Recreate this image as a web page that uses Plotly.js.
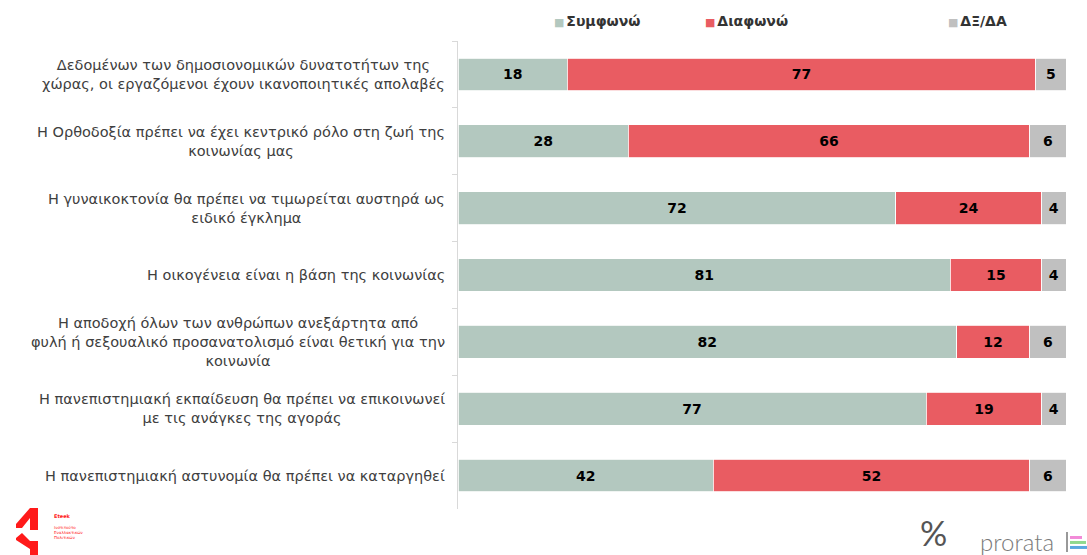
<!DOCTYPE html>
<html>
<head>
<meta charset="utf-8">
<script src="https://cdn.plot.ly/plotly-3.0.1.min.js"></script>
<style>html,body{margin:0;padding:0;background:#fff;}#chart{width:1087px;height:555px;}</style>
</head>
<body>
<div id="chart"></div>
<script>
const categories = [
  "Δεδομένων των δημοσιονομικών δυνατοτήτων της<br>χώρας, οι εργαζόμενοι έχουν ικανοποιητικές απολαβές",
  "Η Ορθοδοξία πρέπει να έχει κεντρικό ρόλο στη ζωή της<br>κοινωνίας μας",
  "Η γυναικοκτονία θα πρέπει να τιμωρείται αυστηρά ως<br>ειδικό έγκλημα",
  "Η οικογένεια είναι η βάση της κοινωνίας",
  "Η αποδοχή όλων των ανθρώπων ανεξάρτητα από<br>φυλή ή σεξουαλικό προσανατολισμό είναι θετική για την<br>κοινωνία",
  "Η πανεπιστημιακή εκπαίδευση θα πρέπει να επικοινωνεί<br>με τις ανάγκες της αγοράς",
  "Η πανεπιστημιακή αστυνομία θα πρέπει να καταργηθεί"
];
const seriesNames = ["Συμφωνώ", "Διαφωνώ", "ΔΞ/ΔΑ"];
const agree = [18, 28, 72, 81, 82, 77, 42];
const disagree = [77, 66, 24, 15, 12, 19, 52];
const dkna = [5, 6, 4, 4, 6, 4, 6];
const colors = ["#b3c8bf", "#e95c62", "#c0c0c0"];

const W = 1087, H = 555;
const M = {l: 458, r: 21, t: 40.5, b: 46};
const pw = W - M.l - M.r, ph = H - M.t - M.b;
const px = v => (v - M.l) / pw;
const py = v => (H - M.b - v) / ph;

const font = "DejaVu Sans, sans-serif";
const ids = categories.map((c, i) => "c" + i);

const values = [agree, disagree, dkna];
const traces = values.map((vals, k) => ({
  type: "bar",
  orientation: "h",
  name: seriesNames[k],
  y: ids,
  x: vals,
  marker: {color: colors[k], line: {color: "#ffffff", width: 0.8}},
  width: 0.49,
  text: vals.map(String),
  textposition: "inside",
  insidetextanchor: "middle",
  constraintext: "none",
  textfont: {family: font, size: 14, color: "#000000", weight: "bold"},
  hoverinfo: "skip",
  showlegend: false
}));

const annotations = categories.map((c, i) => ({
  xref: "paper", yref: "y", x: px(447), y: ids[i],
  xanchor: "right", yanchor: "middle", align: "center",
  text: c, showarrow: false,
  font: {family: font, size: 14.5, color: "#404040"}
}));

// legend
const legX = [552, 703, 946];
seriesNames.forEach((n, k) => {
  annotations.push({
    xref: "paper", yref: "paper", x: px(legX[k]), y: py(20),
    xanchor: "left", yanchor: "middle", showarrow: false,
    text: '<span style="color:' + colors[k] + ';font-size:11px">■</span><span style="font-size:6px">&#160;</span><b>' + n + '</b>',
    font: {family: font, size: 14, color: "#333333"}
  });
});

// logos text
annotations.push(
  {xref: "paper", yref: "paper", x: px(52), y: py(516), xanchor: "left", yanchor: "middle", showarrow: false,
   text: "<b>Eteek</b>", font: {family: font, size: 5, color: "#ff2020"}},
  {xref: "paper", yref: "paper", x: px(52), y: py(533), xanchor: "left", yanchor: "middle", showarrow: false, align: "left",
   text: "Ινστιτούτο<br>Εναλλακτικών<br>Πολιτικών", font: {family: font, size: 4, color: "#ff2020"}},
  {xref: "paper", yref: "paper", x: px(919), y: py(533), xanchor: "left", yanchor: "middle", showarrow: false, borderpad: 0,
   text: "%", font: {family: "Lato, sans-serif", size: 34, color: "#555555"}},
  {xref: "paper", yref: "paper", x: px(978), y: py(542), xanchor: "left", yanchor: "middle", showarrow: false,
   text: "prorata", font: {family: "Lato, sans-serif", size: 24, color: "#7a7a7a", weight: 300}}
);

const shapes = [];
function path(pts) {
  return "M" + pts.map(p => px(p[0]) + "," + py(p[1])).join(" L") + " Z";
}
shapes.push(
  {type: "path", xref: "paper", yref: "paper", fillcolor: "#ff1a1a", line: {width: 0},
   path: path([[30, 508], [38, 508], [38, 530], [30, 530], [30, 518], [22, 528], [16, 528], [16, 524]])},
  {type: "path", xref: "paper", yref: "paper", fillcolor: "#ff1a1a", line: {width: 0},
   path: path([[16, 538], [22, 533], [30, 541], [38, 541], [38, 555], [30, 555], [30, 549], [16, 540]])},
  {type: "line", xref: "paper", yref: "paper", x0: px(1067), x1: px(1067), y0: py(532), y1: py(552), line: {color: "#555555", width: 1.2}},
  {type: "rect", xref: "paper", yref: "paper", x0: px(1070), x1: px(1082), y0: py(536), y1: py(539), fillcolor: "#f28ad8", line: {width: 0}},
  {type: "rect", xref: "paper", yref: "paper", x0: px(1070), x1: px(1086), y0: py(541), y1: py(544), fillcolor: "#8fd98f", line: {width: 0}},
  {type: "rect", xref: "paper", yref: "paper", x0: px(1070), x1: px(1087), y0: py(546), y1: py(549), fillcolor: "#5aa8e0", line: {width: 0}}
);

const layout = {
  width: W, height: H,
  margin: M,
  barmode: "stack",
  bargap: 0.51,
  paper_bgcolor: "#ffffff",
  plot_bgcolor: "#ffffff",
  showlegend: false,
  xaxis: {range: [0, 100], showgrid: false, zeroline: false, showticklabels: false, ticks: "", showline: false, fixedrange: true},
  yaxis: {
    type: "category", autorange: "reversed",
    showticklabels: false, showgrid: false, zeroline: false,
    showline: true, linecolor: "#d9d9d9", linewidth: 1,
    ticks: "outside", tickson: "boundaries", ticklen: 5, tickcolor: "#d9d9d9",
    fixedrange: true
  },
  annotations: annotations,
  shapes: shapes
};

Plotly.newPlot("chart", traces, layout, {staticPlot: true, displayModeBar: false});
</script>
</body>
</html>
